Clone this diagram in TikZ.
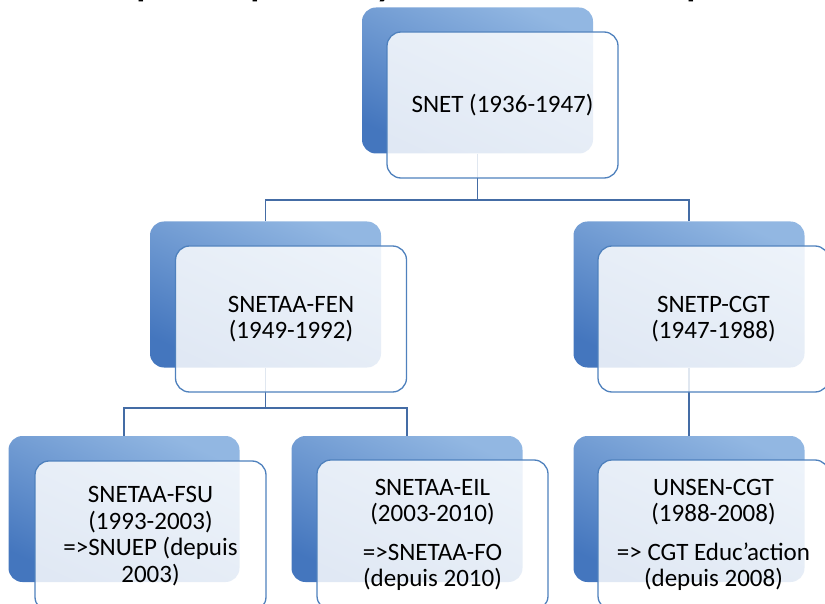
\documentclass[tikz,border=0pt]{standalone}
\usepackage{fontspec}
\setmainfont{Carlito}
\usetikzlibrary{backgrounds}
\definecolor{backtop}{RGB}{146,183,226}
\definecolor{backbot}{RGB}{68,118,190}
\definecolor{edgeblue}{RGB}{79,129,189}
\definecolor{lineblue}{RGB}{68,108,165}
\begin{document}
\begin{tikzpicture}[x=1pt,y=-1pt,
  backbox/.style={rounded corners=14pt, minimum width=231pt, minimum height=146pt,
    top color=backtop, bottom color=backbot, shading angle=-25, inner sep=0pt, draw=none},
  frontbox/.style={rounded corners=14pt, minimum width=231pt, minimum height=146pt,
    draw=edgeblue, line width=1.3pt, fill=white, fill opacity=0.84, text opacity=1,
    align=center, inner sep=0pt, font=\fontsize{25}{26.5}\selectfont},
  conn/.style={draw=lineblue, line width=1.5pt},
  titlefrag/.style={font=\fontsize{52}{52}\selectfont, anchor=base west, inner sep=0pt}]
\useasboundingbox (0,0) rectangle (825,604);
\clip (0,0) rectangle (825,604);
% fragments of the title line above
\node[titlefrag] (t1) at (135,-6) {p};
\node[titlefrag] (t2) at (249,-6) {p};
\node[titlefrag] (t3) at (374,-6) {y};
\node[titlefrag] (t4) at (685,-6) {p};
% level 1
\node[backbox] (snetB) at (477.5,80.5) {};
\node[frontbox] (snet) at (502.5,105) {SNET (1936-1947)};
% level 2
\node[backbox] (fenB) at (265.5,294.5) {};
\node[frontbox] (fen) at (291,319) {SNETAA-FEN\\(1949-1992)};
\node[backbox] (cgtB) at (689,294.5) {};
\node[frontbox] (cgt) at (713.5,319) {SNETP-CGT\\(1947-1988)};
% level 3
\node[backbox] (fsuB) at (124,509) {};
\node[frontbox, minimum height=150pt] (fsu) at (150.5,536) {SNETAA-FSU\\(1993-2003)\\=>SNUEP (depuis\\2003)};
\node[backbox] (eilB) at (407,509) {};
\node[frontbox, minimum height=150pt] (eil) at (432.5,535) {SNETAA-EIL\\(2003-2010)\\[12pt]=>SNETAA-FO\\(depuis 2010)};
\node[backbox] (unsB) at (689,509) {};
\node[frontbox, minimum height=150pt] (uns) at (713.5,535) {UNSEN-CGT\\(1988-2008)\\[12pt]=> CGT Educ’action\\(depuis 2008)};
\coordinate (bar1) at (477.5,200);
\coordinate (bar2) at (265.5,408);
\begin{scope}[on background layer]
\draw[conn] (snetB.south) -- (bar1);
\draw[conn] (fenB.north) |- (bar1) -| (cgtB.north);
\draw[conn] (fenB.south) -- (bar2);
\draw[conn] (fsuB.north) |- (bar2) -| (eilB.north);
\draw[conn] (cgtB.south) -- (unsB.north);
\end{scope}
\end{tikzpicture}
\end{document}
